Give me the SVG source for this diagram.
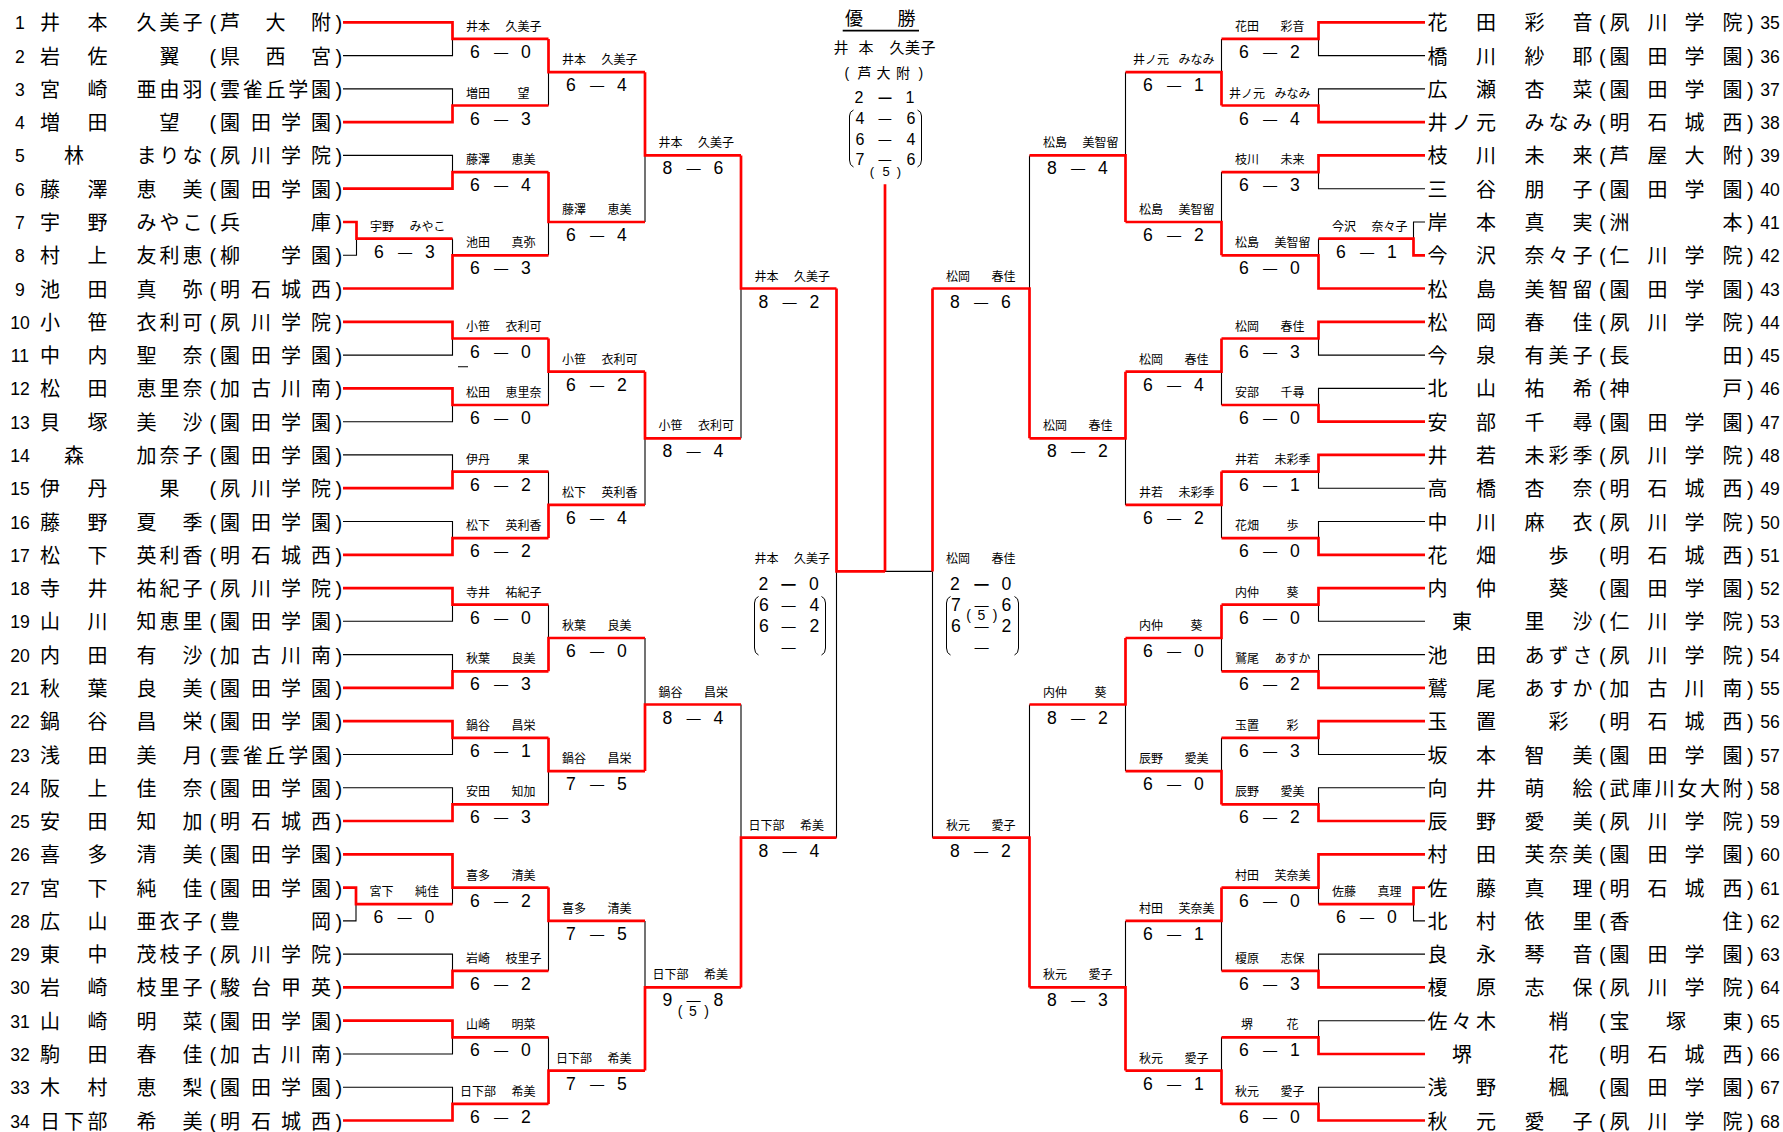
<svg xmlns="http://www.w3.org/2000/svg" width="1783" height="1132" viewBox="0 0 1783 1132">
<style>
.nm{font-family:"Liberation Sans","Noto Sans CJK JP",sans-serif;font-size:20px;fill:#000}
.no{font-family:"Liberation Sans",sans-serif;font-size:17.6px;text-anchor:middle;fill:#000}
.lb{font-family:"Noto Sans CJK JP",sans-serif;font-size:12px;text-anchor:middle;fill:#000}
.sc{font-family:"Liberation Sans",sans-serif;font-size:17.6px;text-anchor:middle;fill:#000}
.d{font-family:"Noto Sans CJK JP",sans-serif}
.db{font-family:"Noto Sans CJK JP",sans-serif;font-weight:bold}
.sm{font-family:"Liberation Sans",sans-serif;font-size:14px;text-anchor:middle;fill:#000}
.r{fill:none;stroke:#ff0000;stroke-width:2.7}
.k{fill:none;stroke:#000;stroke-width:1.1}
.br{fill:none;stroke:#000;stroke-width:1}
</style>
<rect width="1783" height="1132" fill="#fff"/>

<g id="connectors">
<path class="k" d="M343 55.6H452.5V38.9M343 88.9H452.5V105.5M343 155.4H452.5V172.1M343 255.3H356.5V238.6M452.5 238.6V255.3M343 355.1H452.5V338.5M343 421.7H452.5V405M343 454.9H452.5V471.6M343 521.5H452.5V538.1M343 621.3H452.5V604.7M343 654.6H452.5V671.3M343 754.5H452.5V737.8M343 787.7H452.5V804.4M343 920.9H356V904.2M452.5 904.2V887.6M343 954.1H452.5V970.8M343 1054H452.5V1037.3M343 1087.3H452.5V1103.9
M548.5 105.5V72.2M548.5 255.3V222M548.5 405V371.7M548.5 471.6V504.9M548.5 604.7V638M548.5 804.4V771.1M548.5 970.8V920.9M548.5 1037.3V1070.6
M645 222V155.4M645 504.9V438.3M645 638V704.5M645 920.9V987.4
M741 438.3V288.5M741 704.5V837.7
M836.5 837.7V571.4M885 571.4H932.5M932.5 837.7V571.4
M1425 55.6H1318.5V38.9M1425 88.9H1318.5V105.5M1425 188.7H1318.5V172.1M1425 222H1413.5V238.6M1318.5 238.6V255.3M1425 355.1H1318.5V338.5M1425 388.4H1318.5V405M1425 488.2H1318.5V471.6M1425 521.5H1318.5V538.1M1425 621.3H1318.5V604.7M1425 654.6H1318.5V671.3M1425 754.5H1318.5V737.8M1425 787.7H1318.5V804.4M1425 920.9H1413.5V904.2M1318.5 904.2V887.6M1425 954.1H1318.5V970.8M1425 1020.7H1318.5V1037.3M1425 1087.3H1318.5V1103.9
M1221.5 38.9V72.2M1221.5 172.1V222M1221.5 405V371.7M1221.5 538.1V504.9M1221.5 671.3V638M1221.5 737.8V771.1M1221.5 970.8V920.9M1221.5 1037.3V1070.6
M1125.5 72.2V155.4M1125.5 504.9V438.3M1125.5 771.1V704.5M1125.5 920.9V987.4
M1029.5 155.4V288.5M1029.5 704.5V837.7
M458 366.7H468"/>
<path class="r" d="M343 22.3H452.5V38.9H548.5M343 122.1H452.5V105.5H548.5M343 188.7H452.5V172.1H548.5M343 222H356.5V238.6H452.5M343 288.5H452.5V255.3H548.5M343 321.8H452.5V338.5H548.5M343 388.4H452.5V405H548.5M343 488.2H452.5V471.6H548.5M343 554.8H452.5V538.1H548.5M343 588.1H452.5V604.7H548.5M343 687.9H452.5V671.3H548.5M343 721.2H452.5V737.8H548.5M343 821H452.5V804.4H548.5M343 887.6H356V904.2H452.5M343 854.3H452.5V887.6H548.5M343 987.4H452.5V970.8H548.5M343 1020.7H452.5V1037.3H548.5M343 1120.5H452.5V1103.9H548.5
M548.5 38.9V72.2H645M548.5 172.1V222H645M548.5 338.5V371.7H645M548.5 538.1V504.9H645M548.5 671.3V638H645M548.5 737.8V771.1H645M548.5 887.6V920.9H645M548.5 1103.9V1070.6H645
M645 72.2V155.4H741M645 371.7V438.3H741M645 771.1V704.5H741M645 1070.6V987.4H741
M741 155.4V288.5H836.5M741 987.4V837.7H836.5
M836.5 288.5V571.4H885M885 571.4V184.3M932.5 288.5V571.4
M1425 22.3H1318.5V38.9H1221.5M1425 122.1H1318.5V105.5H1221.5M1425 155.4H1318.5V172.1H1221.5M1425 255.3H1413.5V238.6H1318.5M1425 288.5H1318.5V255.3H1221.5M1425 321.8H1318.5V338.5H1221.5M1425 421.7H1318.5V405H1221.5M1425 454.9H1318.5V471.6H1221.5M1425 554.8H1318.5V538.1H1221.5M1425 588.1H1318.5V604.7H1221.5M1425 687.9H1318.5V671.3H1221.5M1425 721.2H1318.5V737.8H1221.5M1425 821H1318.5V804.4H1221.5M1425 887.6H1413.5V904.2H1318.5M1425 854.3H1318.5V887.6H1221.5M1425 987.4H1318.5V970.8H1221.5M1425 1054H1318.5V1037.3H1221.5M1425 1120.5H1318.5V1103.9H1221.5
M1221.5 105.5V72.2H1125.5M1221.5 255.3V222H1125.5M1221.5 338.5V371.7H1125.5M1221.5 471.6V504.9H1125.5M1221.5 604.7V638H1125.5M1221.5 804.4V771.1H1125.5M1221.5 887.6V920.9H1125.5M1221.5 1103.9V1070.6H1125.5
M1125.5 222V155.4H1029.5M1125.5 371.7V438.3H1029.5M1125.5 638V704.5H1029.5M1125.5 1070.6V987.4H1029.5
M1029.5 438.3V288.5H932.5M1029.5 987.4V837.7H932.5"/>
</g>

<g id="players-left">
<g id="p1" transform="translate(0 22.3)"><text class="no" x="20" y="7">1</text><text class="nm" y="8" x="40 87.5 136.5 159.5 182.5 209.5 220 265.5 311 335.5">井本久美子(芦大附)</text></g>
<g id="p2" transform="translate(0 55.6)"><text class="no" x="20" y="7">2</text><text class="nm" y="8" x="40 87.5 159.5 209.5 220 265.5 311 335.5">岩佐翼(県西宮)</text></g>
<g id="p3" transform="translate(0 88.9)"><text class="no" x="20" y="7">3</text><text class="nm" y="8" x="40 87.5 136.5 159.5 182.5 209.5 220 242.75 265.5 288.25 311 335.5">宮崎亜由羽(雲雀丘学園)</text></g>
<g id="p4" transform="translate(0 122.1)"><text class="no" x="20" y="7">4</text><text class="nm" y="8" x="40 87.5 159.5 209.5 220 251 281 311 335.5">増田望(園田学園)</text></g>
<g id="p5" transform="translate(0 155.4)"><text class="no" x="20" y="7">5</text><text class="nm" y="8" x="64 136.5 159.5 182.5 209.5 220 251 281 311 335.5">林まりな(夙川学院)</text></g>
<g id="p6" transform="translate(0 188.7)"><text class="no" x="20" y="7">6</text><text class="nm" y="8" x="40 87.5 136.5 182.5 209.5 220 251 281 311 335.5">藤澤恵美(園田学園)</text></g>
<g id="p7" transform="translate(0 222)"><text class="no" x="20" y="7">7</text><text class="nm" y="8" x="40 87.5 136.5 159.5 182.5 209.5 220 311 335.5">宇野みやこ(兵庫)</text></g>
<g id="p8" transform="translate(0 255.3)"><text class="no" x="20" y="7">8</text><text class="nm" y="8" x="40 87.5 136.5 159.5 182.5 209.5 220 281 311 335.5">村上友利恵(柳学園)</text></g>
<g id="p9" transform="translate(0 288.5)"><text class="no" x="20" y="7">9</text><text class="nm" y="8" x="40 87.5 136.5 182.5 209.5 220 251 281 311 335.5">池田真弥(明石城西)</text></g>
<g id="p10" transform="translate(0 321.8)"><text class="no" x="20" y="7">10</text><text class="nm" y="8" x="40 87.5 136.5 159.5 182.5 209.5 220 251 281 311 335.5">小笹衣利可(夙川学院)</text></g>
<g id="p11" transform="translate(0 355.1)"><text class="no" x="20" y="7">11</text><text class="nm" y="8" x="40 87.5 136.5 182.5 209.5 220 251 281 311 335.5">中内聖奈(園田学園)</text></g>
<g id="p12" transform="translate(0 388.4)"><text class="no" x="20" y="7">12</text><text class="nm" y="8" x="40 87.5 136.5 159.5 182.5 209.5 220 251 281 311 335.5">松田恵里奈(加古川南)</text></g>
<g id="p13" transform="translate(0 421.7)"><text class="no" x="20" y="7">13</text><text class="nm" y="8" x="40 87.5 136.5 182.5 209.5 220 251 281 311 335.5">貝塚美沙(園田学園)</text></g>
<g id="p14" transform="translate(0 454.9)"><text class="no" x="20" y="7">14</text><text class="nm" y="8" x="64 136.5 159.5 182.5 209.5 220 251 281 311 335.5">森加奈子(園田学園)</text></g>
<g id="p15" transform="translate(0 488.2)"><text class="no" x="20" y="7">15</text><text class="nm" y="8" x="40 87.5 159.5 209.5 220 251 281 311 335.5">伊丹果(夙川学院)</text></g>
<g id="p16" transform="translate(0 521.5)"><text class="no" x="20" y="7">16</text><text class="nm" y="8" x="40 87.5 136.5 182.5 209.5 220 251 281 311 335.5">藤野夏季(園田学園)</text></g>
<g id="p17" transform="translate(0 554.8)"><text class="no" x="20" y="7">17</text><text class="nm" y="8" x="40 87.5 136.5 159.5 182.5 209.5 220 251 281 311 335.5">松下英利香(明石城西)</text></g>
<g id="p18" transform="translate(0 588.1)"><text class="no" x="20" y="7">18</text><text class="nm" y="8" x="40 87.5 136.5 159.5 182.5 209.5 220 251 281 311 335.5">寺井祐紀子(夙川学院)</text></g>
<g id="p19" transform="translate(0 621.3)"><text class="no" x="20" y="7">19</text><text class="nm" y="8" x="40 87.5 136.5 159.5 182.5 209.5 220 251 281 311 335.5">山川知恵里(園田学園)</text></g>
<g id="p20" transform="translate(0 654.6)"><text class="no" x="20" y="7">20</text><text class="nm" y="8" x="40 87.5 136.5 182.5 209.5 220 251 281 311 335.5">内田有沙(加古川南)</text></g>
<g id="p21" transform="translate(0 687.9)"><text class="no" x="20" y="7">21</text><text class="nm" y="8" x="40 87.5 136.5 182.5 209.5 220 251 281 311 335.5">秋葉良美(園田学園)</text></g>
<g id="p22" transform="translate(0 721.2)"><text class="no" x="20" y="7">22</text><text class="nm" y="8" x="40 87.5 136.5 182.5 209.5 220 251 281 311 335.5">鍋谷昌栄(園田学園)</text></g>
<g id="p23" transform="translate(0 754.5)"><text class="no" x="20" y="7">23</text><text class="nm" y="8" x="40 87.5 136.5 182.5 209.5 220 242.75 265.5 288.25 311 335.5">浅田美月(雲雀丘学園)</text></g>
<g id="p24" transform="translate(0 787.7)"><text class="no" x="20" y="7">24</text><text class="nm" y="8" x="40 87.5 136.5 182.5 209.5 220 251 281 311 335.5">阪上佳奈(園田学園)</text></g>
<g id="p25" transform="translate(0 821)"><text class="no" x="20" y="7">25</text><text class="nm" y="8" x="40 87.5 136.5 182.5 209.5 220 251 281 311 335.5">安田知加(明石城西)</text></g>
<g id="p26" transform="translate(0 854.3)"><text class="no" x="20" y="7">26</text><text class="nm" y="8" x="40 87.5 136.5 182.5 209.5 220 251 281 311 335.5">喜多清美(園田学園)</text></g>
<g id="p27" transform="translate(0 887.6)"><text class="no" x="20" y="7">27</text><text class="nm" y="8" x="40 87.5 136.5 182.5 209.5 220 251 281 311 335.5">宮下純佳(園田学園)</text></g>
<g id="p28" transform="translate(0 920.9)"><text class="no" x="20" y="7">28</text><text class="nm" y="8" x="40 87.5 136.5 159.5 182.5 209.5 220 311 335.5">広山亜衣子(豊岡)</text></g>
<g id="p29" transform="translate(0 954.1)"><text class="no" x="20" y="7">29</text><text class="nm" y="8" x="40 87.5 136.5 159.5 182.5 209.5 220 251 281 311 335.5">東中茂枝子(夙川学院)</text></g>
<g id="p30" transform="translate(0 987.4)"><text class="no" x="20" y="7">30</text><text class="nm" y="8" x="40 87.5 136.5 159.5 182.5 209.5 220 251 281 311 335.5">岩崎枝里子(駿台甲英)</text></g>
<g id="p31" transform="translate(0 1020.7)"><text class="no" x="20" y="7">31</text><text class="nm" y="8" x="40 87.5 136.5 182.5 209.5 220 251 281 311 335.5">山崎明菜(園田学園)</text></g>
<g id="p32" transform="translate(0 1054)"><text class="no" x="20" y="7">32</text><text class="nm" y="8" x="40 87.5 136.5 182.5 209.5 220 251 281 311 335.5">駒田春佳(加古川南)</text></g>
<g id="p33" transform="translate(0 1087.3)"><text class="no" x="20" y="7">33</text><text class="nm" y="8" x="40 87.5 136.5 182.5 209.5 220 251 281 311 335.5">木村恵梨(園田学園)</text></g>
<g id="p34" transform="translate(0 1120.5)"><text class="no" x="20" y="7">34</text><text class="nm" y="8" x="40 64 87.5 136.5 182.5 209.5 220 251 281 311 335.5">日下部希美(明石城西)</text></g>
</g>

<g id="players-right">
<g id="p35" transform="translate(0 22.3)"><text class="nm" y="8" x="1427.5 1476 1524.5 1572.5 1599 1609.5 1647.5 1684.5 1722.5 1747">花田彩音(夙川学院)</text><text class="no" x="1770" y="7">35</text></g>
<g id="p36" transform="translate(0 55.6)"><text class="nm" y="8" x="1427.5 1476 1524.5 1572.5 1599 1609.5 1647.5 1684.5 1722.5 1747">橋川紗耶(園田学園)</text><text class="no" x="1770" y="7">36</text></g>
<g id="p37" transform="translate(0 88.9)"><text class="nm" y="8" x="1427.5 1476 1524.5 1572.5 1599 1609.5 1647.5 1684.5 1722.5 1747">広瀬杏菜(園田学園)</text><text class="no" x="1770" y="7">37</text></g>
<g id="p38" transform="translate(0 122.1)"><text class="nm" y="8" x="1427.5 1451.75 1476 1524.5 1548.5 1572.5 1599 1609.5 1647.5 1684.5 1722.5 1747">井ノ元みなみ(明石城西)</text><text class="no" x="1770" y="7">38</text></g>
<g id="p39" transform="translate(0 155.4)"><text class="nm" y="8" x="1427.5 1476 1524.5 1572.5 1599 1609.5 1647.5 1684.5 1722.5 1747">枝川未来(芦屋大附)</text><text class="no" x="1770" y="7">39</text></g>
<g id="p40" transform="translate(0 188.7)"><text class="nm" y="8" x="1427.5 1476 1524.5 1572.5 1599 1609.5 1647.5 1684.5 1722.5 1747">三谷朋子(園田学園)</text><text class="no" x="1770" y="7">40</text></g>
<g id="p41" transform="translate(0 222)"><text class="nm" y="8" x="1427.5 1476 1524.5 1572.5 1599 1609.5 1722.5 1747">岸本真実(洲本)</text><text class="no" x="1770" y="7">41</text></g>
<g id="p42" transform="translate(0 255.3)"><text class="nm" y="8" x="1427.5 1476 1524.5 1548.5 1572.5 1599 1609.5 1647.5 1684.5 1722.5 1747">今沢奈々子(仁川学院)</text><text class="no" x="1770" y="7">42</text></g>
<g id="p43" transform="translate(0 288.5)"><text class="nm" y="8" x="1427.5 1476 1524.5 1548.5 1572.5 1599 1609.5 1647.5 1684.5 1722.5 1747">松島美智留(園田学園)</text><text class="no" x="1770" y="7">43</text></g>
<g id="p44" transform="translate(0 321.8)"><text class="nm" y="8" x="1427.5 1476 1524.5 1572.5 1599 1609.5 1647.5 1684.5 1722.5 1747">松岡春佳(夙川学院)</text><text class="no" x="1770" y="7">44</text></g>
<g id="p45" transform="translate(0 355.1)"><text class="nm" y="8" x="1427.5 1476 1524.5 1548.5 1572.5 1599 1609.5 1722.5 1747">今泉有美子(長田)</text><text class="no" x="1770" y="7">45</text></g>
<g id="p46" transform="translate(0 388.4)"><text class="nm" y="8" x="1427.5 1476 1524.5 1572.5 1599 1609.5 1722.5 1747">北山祐希(神戸)</text><text class="no" x="1770" y="7">46</text></g>
<g id="p47" transform="translate(0 421.7)"><text class="nm" y="8" x="1427.5 1476 1524.5 1572.5 1599 1609.5 1647.5 1684.5 1722.5 1747">安部千尋(園田学園)</text><text class="no" x="1770" y="7">47</text></g>
<g id="p48" transform="translate(0 454.9)"><text class="nm" y="8" x="1427.5 1476 1524.5 1548.5 1572.5 1599 1609.5 1647.5 1684.5 1722.5 1747">井若未彩季(夙川学院)</text><text class="no" x="1770" y="7">48</text></g>
<g id="p49" transform="translate(0 488.2)"><text class="nm" y="8" x="1427.5 1476 1524.5 1572.5 1599 1609.5 1647.5 1684.5 1722.5 1747">高橋杏奈(明石城西)</text><text class="no" x="1770" y="7">49</text></g>
<g id="p50" transform="translate(0 521.5)"><text class="nm" y="8" x="1427.5 1476 1524.5 1572.5 1599 1609.5 1647.5 1684.5 1722.5 1747">中川麻衣(夙川学院)</text><text class="no" x="1770" y="7">50</text></g>
<g id="p51" transform="translate(0 554.8)"><text class="nm" y="8" x="1427.5 1476 1548.5 1599 1609.5 1647.5 1684.5 1722.5 1747">花畑歩(明石城西)</text><text class="no" x="1770" y="7">51</text></g>
<g id="p52" transform="translate(0 588.1)"><text class="nm" y="8" x="1427.5 1476 1548.5 1599 1609.5 1647.5 1684.5 1722.5 1747">内仲葵(園田学園)</text><text class="no" x="1770" y="7">52</text></g>
<g id="p53" transform="translate(0 621.3)"><text class="nm" y="8" x="1452 1524.5 1572.5 1599 1609.5 1647.5 1684.5 1722.5 1747">東里沙(仁川学院)</text><text class="no" x="1770" y="7">53</text></g>
<g id="p54" transform="translate(0 654.6)"><text class="nm" y="8" x="1427.5 1476 1524.5 1548.5 1572.5 1599 1609.5 1647.5 1684.5 1722.5 1747">池田あずさ(夙川学院)</text><text class="no" x="1770" y="7">54</text></g>
<g id="p55" transform="translate(0 687.9)"><text class="nm" y="8" x="1427.5 1476 1524.5 1548.5 1572.5 1599 1609.5 1647.5 1684.5 1722.5 1747">鷲尾あすか(加古川南)</text><text class="no" x="1770" y="7">55</text></g>
<g id="p56" transform="translate(0 721.2)"><text class="nm" y="8" x="1427.5 1476 1548.5 1599 1609.5 1647.5 1684.5 1722.5 1747">玉置彩(明石城西)</text><text class="no" x="1770" y="7">56</text></g>
<g id="p57" transform="translate(0 754.5)"><text class="nm" y="8" x="1427.5 1476 1524.5 1572.5 1599 1609.5 1647.5 1684.5 1722.5 1747">坂本智美(園田学園)</text><text class="no" x="1770" y="7">57</text></g>
<g id="p58" transform="translate(0 787.7)"><text class="nm" y="8" x="1427.5 1476 1524.5 1572.5 1599 1609.5 1632.1 1654.7 1677.3 1699.9 1722.5 1747">向井萌絵(武庫川女大附)</text><text class="no" x="1770" y="7">58</text></g>
<g id="p59" transform="translate(0 821)"><text class="nm" y="8" x="1427.5 1476 1524.5 1572.5 1599 1609.5 1647.5 1684.5 1722.5 1747">辰野愛美(夙川学院)</text><text class="no" x="1770" y="7">59</text></g>
<g id="p60" transform="translate(0 854.3)"><text class="nm" y="8" x="1427.5 1476 1524.5 1548.5 1572.5 1599 1609.5 1647.5 1684.5 1722.5 1747">村田芙奈美(園田学園)</text><text class="no" x="1770" y="7">60</text></g>
<g id="p61" transform="translate(0 887.6)"><text class="nm" y="8" x="1427.5 1476 1524.5 1572.5 1599 1609.5 1647.5 1684.5 1722.5 1747">佐藤真理(明石城西)</text><text class="no" x="1770" y="7">61</text></g>
<g id="p62" transform="translate(0 920.9)"><text class="nm" y="8" x="1427.5 1476 1524.5 1572.5 1599 1609.5 1722.5 1747">北村依里(香住)</text><text class="no" x="1770" y="7">62</text></g>
<g id="p63" transform="translate(0 954.1)"><text class="nm" y="8" x="1427.5 1476 1524.5 1572.5 1599 1609.5 1647.5 1684.5 1722.5 1747">良永琴音(園田学園)</text><text class="no" x="1770" y="7">63</text></g>
<g id="p64" transform="translate(0 987.4)"><text class="nm" y="8" x="1427.5 1476 1524.5 1572.5 1599 1609.5 1647.5 1684.5 1722.5 1747">榎原志保(夙川学院)</text><text class="no" x="1770" y="7">64</text></g>
<g id="p65" transform="translate(0 1020.7)"><text class="nm" y="8" x="1427.5 1451.75 1476 1548.5 1599 1609.5 1666 1722.5 1747">佐々木梢(宝塚東)</text><text class="no" x="1770" y="7">65</text></g>
<g id="p66" transform="translate(0 1054)"><text class="nm" y="8" x="1452 1548.5 1599 1609.5 1647.5 1684.5 1722.5 1747">堺花(明石城西)</text><text class="no" x="1770" y="7">66</text></g>
<g id="p67" transform="translate(0 1087.3)"><text class="nm" y="8" x="1427.5 1476 1548.5 1599 1609.5 1647.5 1684.5 1722.5 1747">浅野楓(園田学園)</text><text class="no" x="1770" y="7">67</text></g>
<g id="p68" transform="translate(0 1120.5)"><text class="nm" y="8" x="1427.5 1476 1524.5 1572.5 1599 1609.5 1647.5 1684.5 1722.5 1747">秋元愛子(夙川学院)</text><text class="no" x="1770" y="7">68</text></g>
</g>

<g id="matches-left">
<g id="mP1" transform="translate(356.5 238.6)"><text class="lb" y="-8"><tspan x="25.5">宇野</tspan><tspan x="71">みやこ</tspan></text><text class="sc" y="19"><tspan x="22.5">6</tspan><tspan class="d" x="48.5">—</tspan><tspan x="73.5">3</tspan></text></g>
<g id="mP2" transform="translate(356 904.2)"><text class="lb" y="-8"><tspan x="25.5">宮下</tspan><tspan x="71">純佳</tspan></text><text class="sc" y="19"><tspan x="22.5">6</tspan><tspan class="d" x="48.5">—</tspan><tspan x="73.5">0</tspan></text></g>
<g id="mM1" transform="translate(452.5 38.9)"><text class="lb" y="-8"><tspan x="25.5">井本</tspan><tspan x="71">久美子</tspan></text><text class="sc" y="19"><tspan x="22.5">6</tspan><tspan class="d" x="48.5">—</tspan><tspan x="73.5">0</tspan></text></g>
<g id="mM2" transform="translate(452.5 105.5)"><text class="lb" y="-8"><tspan x="25.5">増田</tspan><tspan x="71">望</tspan></text><text class="sc" y="19"><tspan x="22.5">6</tspan><tspan class="d" x="48.5">—</tspan><tspan x="73.5">3</tspan></text></g>
<g id="mM3" transform="translate(452.5 172.1)"><text class="lb" y="-8"><tspan x="25.5">藤澤</tspan><tspan x="71">恵美</tspan></text><text class="sc" y="19"><tspan x="22.5">6</tspan><tspan class="d" x="48.5">—</tspan><tspan x="73.5">4</tspan></text></g>
<g id="mM4" transform="translate(452.5 255.3)"><text class="lb" y="-8"><tspan x="25.5">池田</tspan><tspan x="71">真弥</tspan></text><text class="sc" y="19"><tspan x="22.5">6</tspan><tspan class="d" x="48.5">—</tspan><tspan x="73.5">3</tspan></text></g>
<g id="mM5" transform="translate(452.5 338.5)"><text class="lb" y="-8"><tspan x="25.5">小笹</tspan><tspan x="71">衣利可</tspan></text><text class="sc" y="19"><tspan x="22.5">6</tspan><tspan class="d" x="48.5">—</tspan><tspan x="73.5">0</tspan></text></g>
<g id="mM6" transform="translate(452.5 405)"><text class="lb" y="-8"><tspan x="25.5">松田</tspan><tspan x="71">恵里奈</tspan></text><text class="sc" y="19"><tspan x="22.5">6</tspan><tspan class="d" x="48.5">—</tspan><tspan x="73.5">0</tspan></text></g>
<g id="mM7" transform="translate(452.5 471.6)"><text class="lb" y="-8"><tspan x="25.5">伊丹</tspan><tspan x="71">果</tspan></text><text class="sc" y="19"><tspan x="22.5">6</tspan><tspan class="d" x="48.5">—</tspan><tspan x="73.5">2</tspan></text></g>
<g id="mM8" transform="translate(452.5 538.1)"><text class="lb" y="-8"><tspan x="25.5">松下</tspan><tspan x="71">英利香</tspan></text><text class="sc" y="19"><tspan x="22.5">6</tspan><tspan class="d" x="48.5">—</tspan><tspan x="73.5">2</tspan></text></g>
<g id="mM9" transform="translate(452.5 604.7)"><text class="lb" y="-8"><tspan x="25.5">寺井</tspan><tspan x="71">祐紀子</tspan></text><text class="sc" y="19"><tspan x="22.5">6</tspan><tspan class="d" x="48.5">—</tspan><tspan x="73.5">0</tspan></text></g>
<g id="mM10" transform="translate(452.5 671.3)"><text class="lb" y="-8"><tspan x="25.5">秋葉</tspan><tspan x="71">良美</tspan></text><text class="sc" y="19"><tspan x="22.5">6</tspan><tspan class="d" x="48.5">—</tspan><tspan x="73.5">3</tspan></text></g>
<g id="mM11" transform="translate(452.5 737.8)"><text class="lb" y="-8"><tspan x="25.5">鍋谷</tspan><tspan x="71">昌栄</tspan></text><text class="sc" y="19"><tspan x="22.5">6</tspan><tspan class="d" x="48.5">—</tspan><tspan x="73.5">1</tspan></text></g>
<g id="mM12" transform="translate(452.5 804.4)"><text class="lb" y="-8"><tspan x="25.5">安田</tspan><tspan x="71">知加</tspan></text><text class="sc" y="19"><tspan x="22.5">6</tspan><tspan class="d" x="48.5">—</tspan><tspan x="73.5">3</tspan></text></g>
<g id="mM13" transform="translate(452.5 887.6)"><text class="lb" y="-8"><tspan x="25.5">喜多</tspan><tspan x="71">清美</tspan></text><text class="sc" y="19"><tspan x="22.5">6</tspan><tspan class="d" x="48.5">—</tspan><tspan x="73.5">2</tspan></text></g>
<g id="mM14" transform="translate(452.5 970.8)"><text class="lb" y="-8"><tspan x="25.5">岩崎</tspan><tspan x="71">枝里子</tspan></text><text class="sc" y="19"><tspan x="22.5">6</tspan><tspan class="d" x="48.5">—</tspan><tspan x="73.5">2</tspan></text></g>
<g id="mM15" transform="translate(452.5 1037.3)"><text class="lb" y="-8"><tspan x="25.5">山崎</tspan><tspan x="71">明菜</tspan></text><text class="sc" y="19"><tspan x="22.5">6</tspan><tspan class="d" x="48.5">—</tspan><tspan x="73.5">0</tspan></text></g>
<g id="mM16" transform="translate(452.5 1103.9)"><text class="lb" y="-8"><tspan x="25.5">日下部</tspan><tspan x="71">希美</tspan></text><text class="sc" y="19"><tspan x="22.5">6</tspan><tspan class="d" x="48.5">—</tspan><tspan x="73.5">2</tspan></text></g>
<g id="mN1" transform="translate(548.5 72.2)"><text class="lb" y="-8"><tspan x="25.5">井本</tspan><tspan x="71">久美子</tspan></text><text class="sc" y="19"><tspan x="22.5">6</tspan><tspan class="d" x="48.5">—</tspan><tspan x="73.5">4</tspan></text></g>
<g id="mN2" transform="translate(548.5 222)"><text class="lb" y="-8"><tspan x="25.5">藤澤</tspan><tspan x="71">恵美</tspan></text><text class="sc" y="19"><tspan x="22.5">6</tspan><tspan class="d" x="48.5">—</tspan><tspan x="73.5">4</tspan></text></g>
<g id="mN3" transform="translate(548.5 371.7)"><text class="lb" y="-8"><tspan x="25.5">小笹</tspan><tspan x="71">衣利可</tspan></text><text class="sc" y="19"><tspan x="22.5">6</tspan><tspan class="d" x="48.5">—</tspan><tspan x="73.5">2</tspan></text></g>
<g id="mN4" transform="translate(548.5 504.9)"><text class="lb" y="-8"><tspan x="25.5">松下</tspan><tspan x="71">英利香</tspan></text><text class="sc" y="19"><tspan x="22.5">6</tspan><tspan class="d" x="48.5">—</tspan><tspan x="73.5">4</tspan></text></g>
<g id="mN5" transform="translate(548.5 638)"><text class="lb" y="-8"><tspan x="25.5">秋葉</tspan><tspan x="71">良美</tspan></text><text class="sc" y="19"><tspan x="22.5">6</tspan><tspan class="d" x="48.5">—</tspan><tspan x="73.5">0</tspan></text></g>
<g id="mN6" transform="translate(548.5 771.1)"><text class="lb" y="-8"><tspan x="25.5">鍋谷</tspan><tspan x="71">昌栄</tspan></text><text class="sc" y="19"><tspan x="22.5">7</tspan><tspan class="d" x="48.5">—</tspan><tspan x="73.5">5</tspan></text></g>
<g id="mN7" transform="translate(548.5 920.9)"><text class="lb" y="-8"><tspan x="25.5">喜多</tspan><tspan x="71">清美</tspan></text><text class="sc" y="19"><tspan x="22.5">7</tspan><tspan class="d" x="48.5">—</tspan><tspan x="73.5">5</tspan></text></g>
<g id="mN8" transform="translate(548.5 1070.6)"><text class="lb" y="-8"><tspan x="25.5">日下部</tspan><tspan x="71">希美</tspan></text><text class="sc" y="19"><tspan x="22.5">7</tspan><tspan class="d" x="48.5">—</tspan><tspan x="73.5">5</tspan></text></g>
<g id="mQ1" transform="translate(645 155.4)"><text class="lb" y="-8"><tspan x="25.5">井本</tspan><tspan x="71">久美子</tspan></text><text class="sc" y="19"><tspan x="22.5">8</tspan><tspan class="d" x="48.5">—</tspan><tspan x="73.5">6</tspan></text></g>
<g id="mQ2" transform="translate(645 438.3)"><text class="lb" y="-8"><tspan x="25.5">小笹</tspan><tspan x="71">衣利可</tspan></text><text class="sc" y="19"><tspan x="22.5">8</tspan><tspan class="d" x="48.5">—</tspan><tspan x="73.5">4</tspan></text></g>
<g id="mQ3" transform="translate(645 704.5)"><text class="lb" y="-8"><tspan x="25.5">鍋谷</tspan><tspan x="71">昌栄</tspan></text><text class="sc" y="19"><tspan x="22.5">8</tspan><tspan class="d" x="48.5">—</tspan><tspan x="73.5">4</tspan></text></g>
<g id="mQ4" transform="translate(645 987.4)"><text class="lb" y="-8"><tspan x="25.5">日下部</tspan><tspan x="71">希美</tspan></text><text class="sc" y="19"><tspan x="22.5">9</tspan><tspan class="d" x="48.5">—</tspan><tspan x="73.5">8</tspan></text><text class="sm" y="29"><tspan x="35">(</tspan><tspan x="48">5</tspan><tspan x="61.5">)</tspan></text></g>
<g id="mS1" transform="translate(741 288.5)"><text class="lb" y="-8"><tspan x="25.5">井本</tspan><tspan x="71">久美子</tspan></text><text class="sc" y="19"><tspan x="22.5">8</tspan><tspan class="d" x="48.5">—</tspan><tspan x="73.5">2</tspan></text></g>
<g id="mS2" transform="translate(741 837.7)"><text class="lb" y="-8"><tspan x="25.5">日下部</tspan><tspan x="71">希美</tspan></text><text class="sc" y="19"><tspan x="22.5">8</tspan><tspan class="d" x="48.5">—</tspan><tspan x="73.5">4</tspan></text></g>
<g id="semiL">
<text class="lb" y="563.4"><tspan x="766.5">井本</tspan><tspan x="812">久美子</tspan></text>
<text class="sc" y="590"><tspan x="763.5">2</tspan><tspan class="db" x="788.5">—</tspan><tspan x="814">0</tspan></text>
<text class="sc" y="610.5"><tspan x="764">6</tspan><tspan class="d" x="788.5">—</tspan><tspan x="814.5">4</tspan></text>
<text class="sc" y="631.5"><tspan x="764">6</tspan><tspan class="d" x="788.5">—</tspan><tspan x="814.5">2</tspan></text>
<text class="sc" y="652.5"><tspan class="d" x="788.5">—</tspan></text>
<path class="br" d="M758.5 596.5Q754.5 598 754.5 603V648Q754.5 653.5 758.5 655M821.5 596.5Q825.5 598 825.5 603V648Q825.5 653.5 821.5 655"/>
</g>
</g>

<g id="matches-right">
<g id="mRP1" transform="translate(1318.5 238.6)"><text class="lb" y="-8"><tspan x="25.5">今沢</tspan><tspan x="71">奈々子</tspan></text><text class="sc" y="19"><tspan x="22.5">6</tspan><tspan class="d" x="48.5">—</tspan><tspan x="73.5">1</tspan></text></g>
<g id="mRP2" transform="translate(1318.5 904.2)"><text class="lb" y="-8"><tspan x="25.5">佐藤</tspan><tspan x="71">真理</tspan></text><text class="sc" y="19"><tspan x="22.5">6</tspan><tspan class="d" x="48.5">—</tspan><tspan x="73.5">0</tspan></text></g>
<g id="mRM1" transform="translate(1221.5 38.9)"><text class="lb" y="-8"><tspan x="25.5">花田</tspan><tspan x="71">彩音</tspan></text><text class="sc" y="19"><tspan x="22.5">6</tspan><tspan class="d" x="48.5">—</tspan><tspan x="73.5">2</tspan></text></g>
<g id="mRM2" transform="translate(1221.5 105.5)"><text class="lb" y="-8"><tspan x="25.5">井ノ元</tspan><tspan x="71">みなみ</tspan></text><text class="sc" y="19"><tspan x="22.5">6</tspan><tspan class="d" x="48.5">—</tspan><tspan x="73.5">4</tspan></text></g>
<g id="mRM3" transform="translate(1221.5 172.1)"><text class="lb" y="-8"><tspan x="25.5">枝川</tspan><tspan x="71">未来</tspan></text><text class="sc" y="19"><tspan x="22.5">6</tspan><tspan class="d" x="48.5">—</tspan><tspan x="73.5">3</tspan></text></g>
<g id="mRM4" transform="translate(1221.5 255.3)"><text class="lb" y="-8"><tspan x="25.5">松島</tspan><tspan x="71">美智留</tspan></text><text class="sc" y="19"><tspan x="22.5">6</tspan><tspan class="d" x="48.5">—</tspan><tspan x="73.5">0</tspan></text></g>
<g id="mRM5" transform="translate(1221.5 338.5)"><text class="lb" y="-8"><tspan x="25.5">松岡</tspan><tspan x="71">春佳</tspan></text><text class="sc" y="19"><tspan x="22.5">6</tspan><tspan class="d" x="48.5">—</tspan><tspan x="73.5">3</tspan></text></g>
<g id="mRM6" transform="translate(1221.5 405)"><text class="lb" y="-8"><tspan x="25.5">安部</tspan><tspan x="71">千尋</tspan></text><text class="sc" y="19"><tspan x="22.5">6</tspan><tspan class="d" x="48.5">—</tspan><tspan x="73.5">0</tspan></text></g>
<g id="mRM7" transform="translate(1221.5 471.6)"><text class="lb" y="-8"><tspan x="25.5">井若</tspan><tspan x="71">未彩季</tspan></text><text class="sc" y="19"><tspan x="22.5">6</tspan><tspan class="d" x="48.5">—</tspan><tspan x="73.5">1</tspan></text></g>
<g id="mRM8" transform="translate(1221.5 538.1)"><text class="lb" y="-8"><tspan x="25.5">花畑</tspan><tspan x="71">歩</tspan></text><text class="sc" y="19"><tspan x="22.5">6</tspan><tspan class="d" x="48.5">—</tspan><tspan x="73.5">0</tspan></text></g>
<g id="mRM9" transform="translate(1221.5 604.7)"><text class="lb" y="-8"><tspan x="25.5">内仲</tspan><tspan x="71">葵</tspan></text><text class="sc" y="19"><tspan x="22.5">6</tspan><tspan class="d" x="48.5">—</tspan><tspan x="73.5">0</tspan></text></g>
<g id="mRM10" transform="translate(1221.5 671.3)"><text class="lb" y="-8"><tspan x="25.5">鷲尾</tspan><tspan x="71">あすか</tspan></text><text class="sc" y="19"><tspan x="22.5">6</tspan><tspan class="d" x="48.5">—</tspan><tspan x="73.5">2</tspan></text></g>
<g id="mRM11" transform="translate(1221.5 737.8)"><text class="lb" y="-8"><tspan x="25.5">玉置</tspan><tspan x="71">彩</tspan></text><text class="sc" y="19"><tspan x="22.5">6</tspan><tspan class="d" x="48.5">—</tspan><tspan x="73.5">3</tspan></text></g>
<g id="mRM12" transform="translate(1221.5 804.4)"><text class="lb" y="-8"><tspan x="25.5">辰野</tspan><tspan x="71">愛美</tspan></text><text class="sc" y="19"><tspan x="22.5">6</tspan><tspan class="d" x="48.5">—</tspan><tspan x="73.5">2</tspan></text></g>
<g id="mRM13" transform="translate(1221.5 887.6)"><text class="lb" y="-8"><tspan x="25.5">村田</tspan><tspan x="71">芙奈美</tspan></text><text class="sc" y="19"><tspan x="22.5">6</tspan><tspan class="d" x="48.5">—</tspan><tspan x="73.5">0</tspan></text></g>
<g id="mRM14" transform="translate(1221.5 970.8)"><text class="lb" y="-8"><tspan x="25.5">榎原</tspan><tspan x="71">志保</tspan></text><text class="sc" y="19"><tspan x="22.5">6</tspan><tspan class="d" x="48.5">—</tspan><tspan x="73.5">3</tspan></text></g>
<g id="mRM15" transform="translate(1221.5 1037.3)"><text class="lb" y="-8"><tspan x="25.5">堺</tspan><tspan x="71">花</tspan></text><text class="sc" y="19"><tspan x="22.5">6</tspan><tspan class="d" x="48.5">—</tspan><tspan x="73.5">1</tspan></text></g>
<g id="mRM16" transform="translate(1221.5 1103.9)"><text class="lb" y="-8"><tspan x="25.5">秋元</tspan><tspan x="71">愛子</tspan></text><text class="sc" y="19"><tspan x="22.5">6</tspan><tspan class="d" x="48.5">—</tspan><tspan x="73.5">0</tspan></text></g>
<g id="mRN1" transform="translate(1125.5 72.2)"><text class="lb" y="-8"><tspan x="25.5">井ノ元</tspan><tspan x="71">みなみ</tspan></text><text class="sc" y="19"><tspan x="22.5">6</tspan><tspan class="d" x="48.5">—</tspan><tspan x="73.5">1</tspan></text></g>
<g id="mRN2" transform="translate(1125.5 222)"><text class="lb" y="-8"><tspan x="25.5">松島</tspan><tspan x="71">美智留</tspan></text><text class="sc" y="19"><tspan x="22.5">6</tspan><tspan class="d" x="48.5">—</tspan><tspan x="73.5">2</tspan></text></g>
<g id="mRN3" transform="translate(1125.5 371.7)"><text class="lb" y="-8"><tspan x="25.5">松岡</tspan><tspan x="71">春佳</tspan></text><text class="sc" y="19"><tspan x="22.5">6</tspan><tspan class="d" x="48.5">—</tspan><tspan x="73.5">4</tspan></text></g>
<g id="mRN4" transform="translate(1125.5 504.9)"><text class="lb" y="-8"><tspan x="25.5">井若</tspan><tspan x="71">未彩季</tspan></text><text class="sc" y="19"><tspan x="22.5">6</tspan><tspan class="d" x="48.5">—</tspan><tspan x="73.5">2</tspan></text></g>
<g id="mRN5" transform="translate(1125.5 638)"><text class="lb" y="-8"><tspan x="25.5">内仲</tspan><tspan x="71">葵</tspan></text><text class="sc" y="19"><tspan x="22.5">6</tspan><tspan class="d" x="48.5">—</tspan><tspan x="73.5">0</tspan></text></g>
<g id="mRN6" transform="translate(1125.5 771.1)"><text class="lb" y="-8"><tspan x="25.5">辰野</tspan><tspan x="71">愛美</tspan></text><text class="sc" y="19"><tspan x="22.5">6</tspan><tspan class="d" x="48.5">—</tspan><tspan x="73.5">0</tspan></text></g>
<g id="mRN7" transform="translate(1125.5 920.9)"><text class="lb" y="-8"><tspan x="25.5">村田</tspan><tspan x="71">芙奈美</tspan></text><text class="sc" y="19"><tspan x="22.5">6</tspan><tspan class="d" x="48.5">—</tspan><tspan x="73.5">1</tspan></text></g>
<g id="mRN8" transform="translate(1125.5 1070.6)"><text class="lb" y="-8"><tspan x="25.5">秋元</tspan><tspan x="71">愛子</tspan></text><text class="sc" y="19"><tspan x="22.5">6</tspan><tspan class="d" x="48.5">—</tspan><tspan x="73.5">1</tspan></text></g>
<g id="mRQ1" transform="translate(1029.5 155.4)"><text class="lb" y="-8"><tspan x="25.5">松島</tspan><tspan x="71">美智留</tspan></text><text class="sc" y="19"><tspan x="22.5">8</tspan><tspan class="d" x="48.5">—</tspan><tspan x="73.5">4</tspan></text></g>
<g id="mRQ2" transform="translate(1029.5 438.3)"><text class="lb" y="-8"><tspan x="25.5">松岡</tspan><tspan x="71">春佳</tspan></text><text class="sc" y="19"><tspan x="22.5">8</tspan><tspan class="d" x="48.5">—</tspan><tspan x="73.5">2</tspan></text></g>
<g id="mRQ3" transform="translate(1029.5 704.5)"><text class="lb" y="-8"><tspan x="25.5">内仲</tspan><tspan x="71">葵</tspan></text><text class="sc" y="19"><tspan x="22.5">8</tspan><tspan class="d" x="48.5">—</tspan><tspan x="73.5">2</tspan></text></g>
<g id="mRQ4" transform="translate(1029.5 987.4)"><text class="lb" y="-8"><tspan x="25.5">秋元</tspan><tspan x="71">愛子</tspan></text><text class="sc" y="19"><tspan x="22.5">8</tspan><tspan class="d" x="48.5">—</tspan><tspan x="73.5">3</tspan></text></g>
<g id="mRS1" transform="translate(932.5 288.5)"><text class="lb" y="-8"><tspan x="25.5">松岡</tspan><tspan x="71">春佳</tspan></text><text class="sc" y="19"><tspan x="22.5">8</tspan><tspan class="d" x="48.5">—</tspan><tspan x="73.5">6</tspan></text></g>
<g id="mRS2" transform="translate(932.5 837.7)"><text class="lb" y="-8"><tspan x="25.5">秋元</tspan><tspan x="71">愛子</tspan></text><text class="sc" y="19"><tspan x="22.5">8</tspan><tspan class="d" x="48.5">—</tspan><tspan x="73.5">2</tspan></text></g>
<g id="semiR">
<text class="lb" y="563.4"><tspan x="958">松岡</tspan><tspan x="1003.5">春佳</tspan></text>
<text class="sc" y="590"><tspan x="955">2</tspan><tspan class="db" x="981.5">—</tspan><tspan x="1006.5">0</tspan></text>
<text class="sc" y="610.5"><tspan x="956">7</tspan><tspan class="d" x="981.5">—</tspan><tspan x="1006.5">6</tspan></text>
<text class="sm" y="620"><tspan x="968.5">(</tspan><tspan x="981.5">5</tspan><tspan x="995">)</tspan></text>
<text class="sc" y="631.5"><tspan x="956">6</tspan><tspan class="d" x="981.5">—</tspan><tspan x="1006.5">2</tspan></text>
<text class="sc" y="652.5"><tspan class="d" x="981.5">—</tspan></text>
<path class="br" d="M950.5 596.5Q946.5 598 946.5 603V648Q946.5 653.5 950.5 655M1014.5 596.5Q1018.5 598 1018.5 603V648Q1018.5 653.5 1014.5 655"/>
</g>
</g>

<g id="champion">
<text x="845 897.5" y="25" style="font-family:'Noto Sans CJK JP',sans-serif;font-size:18px">優勝</text>
<line x1="842.7" y1="30.7" x2="919" y2="30.7" stroke="#000" stroke-width="1.8"/>
<text x="833.5 858.5 889.5 905 920.5" y="52.5" style="font-family:'Noto Sans CJK JP',sans-serif;font-size:15px">井本久美子</text>
<text x="844.5 857.5 876.5 896 918.5" y="78" style="font-family:'Liberation Sans','Noto Sans CJK JP',sans-serif;font-size:14px">(芦大附)</text>
<text class="sc" y="103.3" style="font-size:16px"><tspan x="859">2</tspan><tspan class="db" x="885">—</tspan><tspan x="910">1</tspan></text>
<text class="sc" y="124" style="font-size:16px"><tspan x="860">4</tspan><tspan class="d" x="885">—</tspan><tspan x="911">6</tspan></text>
<text class="sc" y="144.5" style="font-size:16px"><tspan x="860">6</tspan><tspan class="d" x="885">—</tspan><tspan x="911">4</tspan></text>
<text class="sc" y="165" style="font-size:16px"><tspan x="860">7</tspan><tspan class="d" x="885">—</tspan><tspan x="911">6</tspan></text>
<text class="sm" y="176" style="font-size:13px"><tspan x="872">(</tspan><tspan x="886">5</tspan><tspan x="899">)</tspan></text>
<path class="br" d="M853.5 110Q849.5 111.5 849.5 116V160Q849.5 165.5 853.5 167M917.5 110Q921.5 111.5 921.5 116V160Q921.5 165.5 917.5 167"/>
</g>
</svg>
